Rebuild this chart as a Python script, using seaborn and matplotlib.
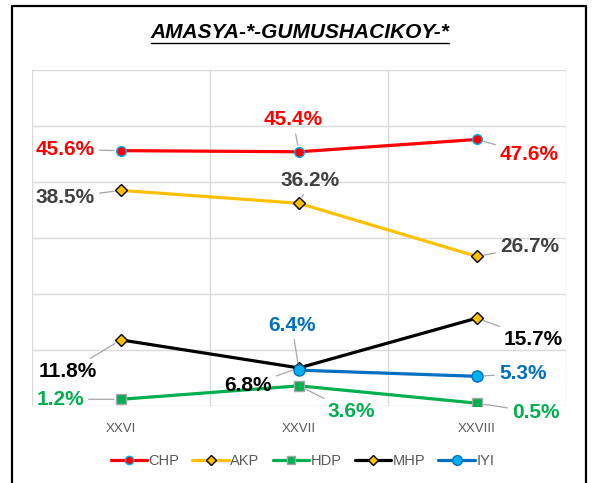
import matplotlib
matplotlib.use("Agg")
import matplotlib.pyplot as plt
import numpy as np
import pandas as pd
import seaborn as sns
from matplotlib.lines import Line2D

# data
elections = ["XXVI", "XXVII", "XXVIII"]
chp = [45.6, 45.4, 47.6]
akp = [38.5, 36.2, 26.7]
hdp = [1.2, 3.6, 0.5]
mhp = [11.8, 6.8, 15.7]
iyi = [np.nan, 6.4, 5.3]

parties = ["CHP", "AKP", "HDP", "MHP", "IYI"]
values = {"CHP": chp, "AKP": akp, "HDP": hdp, "MHP": mhp, "IYI": iyi}

# line / marker styles
styles = {
    "CHP": dict(color="#FF0000", marker="o", mfc="#FF0000", mec="#00B0F0", ms=7),
    "AKP": dict(color="#FFC000", marker="D", mfc="#FFC000", mec="#000000", ms=6),
    "HDP": dict(color="#00B050", marker="s", mfc="#00B050", mec="#A5A5A5", ms=6.5),
    "MHP": dict(color="#000000", marker="D", mfc="#FFC000", mec="#000000", ms=6),
    "IYI": dict(color="#0070C0", marker="o", mfc="#00B0F0", mec="#0070C0", ms=8),
}
label_colors = {"CHP": "#FF0000", "AKP": "#404040", "HDP": "#00B050",
                "MHP": "#000000", "IYI": "#0070C0"}

# label offsets in pixels (dx, dy, ha) for each point
label_pos = {
    "CHP": [(-26, 1, "right"), (-6, 32, "center"), (23, -15, "left")],
    "AKP": [(-26, -7, "right"), (11, 23, "center"), (23, 10, "left")],
    "HDP": [(-37, 0, "right"), (28, -26, "left"), (35, -9, "left")],
    "MHP": [(-24, -32, "right"), (-27, -18, "right"), (27, -21, "left")],
    "IYI": [None, (-7, 45, "center"), (22, 3, "left")],
}

sns.set_theme(style="whitegrid")
plt.rcParams["font.family"] = ["Liberation Sans", "DejaVu Sans"]

fig = plt.figure(figsize=(5.93, 4.83), dpi=100)
ax = fig.add_axes([32 / 593, 1 - 406 / 483, 534 / 593, 336 / 483])

x = np.arange(len(elections))
for party in parties:
    st = styles[party]
    df = pd.DataFrame({"x": x, "y": values[party]}).dropna()
    sns.lineplot(data=df, x="x", y="y", ax=ax, color=st["color"], linewidth=2.3,
                 marker=st["marker"], markerfacecolor=st["mfc"],
                 markeredgecolor=st["mec"], markersize=st["ms"],
                 markeredgewidth=1.0, label=party, legend=False)
    for i, v in enumerate(values[party]):
        pos = label_pos[party][i]
        if pos is None or np.isnan(v):
            continue
        dx, dy, ha = pos
        ax.annotate(f"{v:.1f}%", xy=(i, v), xytext=(dx, dy),
                    textcoords="offset pixels", ha=ha, va="center",
                    fontsize=15, fontweight="bold", color=label_colors[party],
                    arrowprops=dict(arrowstyle="-", color="#A6A6A6", lw=0.9,
                                    shrinkA=1, shrinkB=5))

ax.set_xlim(-0.5, 2.5)
ax.set_ylim(0, 60)
ax.set_yticks(np.arange(0, 61, 10))
ax.set_yticklabels([])
ax.set_xticks([-0.5, 0.5, 1.5, 2.5], minor=False)
ax.set_xticklabels([])
ax.set_xticks(x, minor=True)
ax.set_xticklabels(elections, minor=True)
ax.tick_params(axis="x", which="both", length=0, pad=12, labelsize=9.5,
               labelcolor="#595959")
ax.tick_params(axis="y", length=0)
ax.grid(True, which="major", color="#D9D9D9", linewidth=1)
ax.grid(False, which="minor")
ax.set_xlabel("")
ax.set_ylabel("")
ax.set_facecolor("white")
for side in ["left", "right", "top", "bottom"]:
    ax.spines[side].set_visible(False)

# legend
handles = [Line2D([0], [0], color=styles[p]["color"], lw=2.3,
                  marker=styles[p]["marker"], mfc=styles[p]["mfc"],
                  mec=styles[p]["mec"], ms=styles[p]["ms"] - 1, mew=1.0)
           for p in parties]
fig.legend(handles, parties, loc="center", bbox_to_anchor=(0.51, 1 - 461 / 483),
           ncol=5, frameon=False, fontsize=10.5, labelcolor="#595959",
           handlelength=2.5, handletextpad=0.1, columnspacing=0.9)

# title with underline
title = fig.text(0.506, 1 - 33 / 483, "AMASYA-*-GUMUSHACIKOY-*", ha="center",
                 va="center", fontsize=15, fontweight="bold", fontstyle="italic",
                 color="#000000")
fig.canvas.draw()
bb = title.get_window_extent().transformed(fig.transFigure.inverted())
fig.add_artist(Line2D([bb.x0, bb.x1], [bb.y0 - 0.002, bb.y0 - 0.002],
                      transform=fig.transFigure, color="black", lw=1.0))

# outer border (left, top, right)
bx0, bx1, by = 12 / 593, 586 / 593, 1 - 6 / 483
fig.add_artist(Line2D([bx0, bx0, bx1, bx1], [0, by, by, 0],
                      transform=fig.transFigure, color="black", lw=1.6))

fig.savefig("out.png", dpi=100, facecolor="white")
plt.close(fig)
